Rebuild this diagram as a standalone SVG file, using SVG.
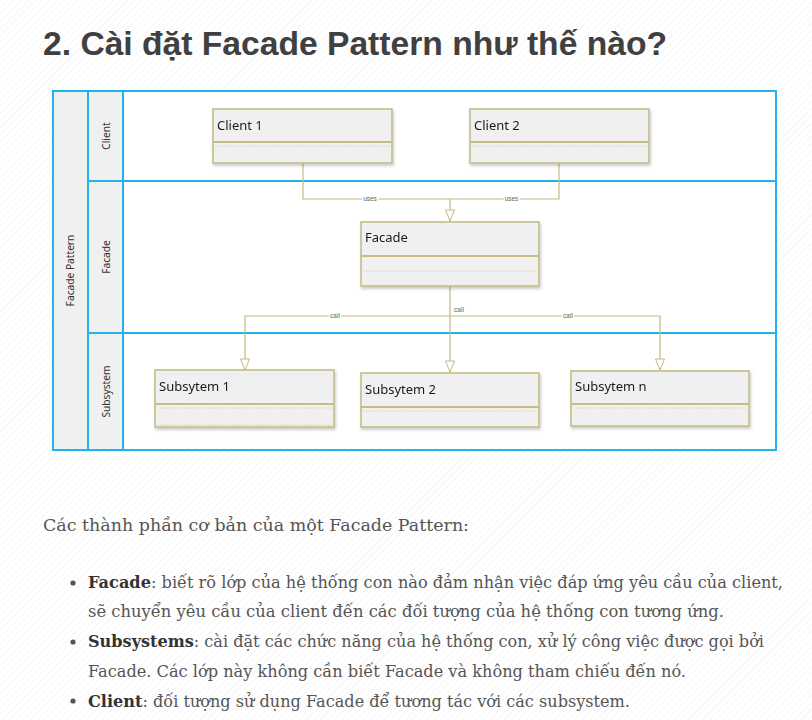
<svg xmlns="http://www.w3.org/2000/svg" width="812" height="720" viewBox="0 0 812 720">
  <defs>
    <pattern id="stripes" width="5" height="5" patternUnits="userSpaceOnUse" patternTransform="rotate(45)">
      <rect width="5" height="5" fill="#ffffff"/>
      <line x1="0" y1="0" x2="0" y2="5" stroke="#f3f3f3" stroke-width="1.4"/>
    </pattern>
    <marker id="hollow" markerUnits="userSpaceOnUse" markerWidth="14" markerHeight="12" viewBox="-1 -1 14 12" refX="11" refY="4.5" orient="auto">
      <path d="M0,0 L11,4.5 L0,9 Z" fill="#ffffff" stroke="#c2ba82" stroke-width="1"/>
    </marker>
    <filter id="shadow" x="-10%" y="-20%" width="125%" height="150%">
      <feDropShadow dx="1" dy="2" stdDeviation="1.4" flood-color="#000" flood-opacity="0.22"/>
    </filter>
  </defs>
  <style>
    .title { font-family: "Liberation Sans", Arial, sans-serif; font-weight: bold; font-size: 34px; fill: #404040; }
    .lane { fill: #ffffff; }
    .head { fill: #f0f0f0; }
    .frame { fill: none; stroke: #22b2ee; stroke-width: 2; }
    .lanelabel { font-family: "Noto Sans", "Open Sans", sans-serif; font-size: 10.2px; fill: #333333; text-anchor: middle; }
    .box { fill: #f0f0f0; stroke: #c6bd86; stroke-width: 1.6; }
    .divider { stroke: #c6bd86; stroke-width: 2; }
    .dots { stroke: #d4c88e; stroke-width: 0.8; stroke-dasharray: 1.5 1.5; }
    .name { font-family: "Noto Sans", "Open Sans", sans-serif; font-size: 13px; fill: #1a1a1a; }
    .conn { fill: none; stroke: #c2ba82; stroke-width: 1.2; }
    .tag { font-family: "Liberation Sans", Arial, sans-serif; font-size: 6.5px; fill: #6b6650; text-anchor: middle; stroke: #ffffff; stroke-width: 3; paint-order: stroke; }
    .body { font-family: "DejaVu Serif", "Liberation Serif", serif; font-size: 17px; fill: #555555; }
    .strong { font-weight: bold; fill: #333333; }
    .dot { fill: #555555; }
  </style>

  <!-- page background -->
  <rect width="812" height="720" fill="url(#stripes)"/>

  <text class="title" x="43" y="55" textLength="624" lengthAdjust="spacingAndGlyphs">2. Cài đặt Facade Pattern như thế nào?</text>

  <!-- swimlane pool -->
  <g id="pool">
    <rect class="lane" x="53" y="91" width="723" height="359"/>
    <rect class="head" x="53" y="91" width="70" height="359"/>
    <rect class="frame" x="53" y="91" width="723" height="359"/>
    <line class="frame" x1="88" y1="91" x2="88" y2="450"/>
    <line class="frame" x1="123" y1="91" x2="123" y2="450"/>
    <line class="frame" x1="88" y1="181" x2="776" y2="181"/>
    <line class="frame" x1="88" y1="333" x2="776" y2="333"/>
    <text class="lanelabel" transform="translate(73.5 270.5) rotate(-90)">Facade Pattern</text>
    <text class="lanelabel" transform="translate(109.5 136) rotate(-90)">Client</text>
    <text class="lanelabel" transform="translate(109.5 257) rotate(-90)">Facade</text>
    <text class="lanelabel" transform="translate(109.5 391.5) rotate(-90)">Subsystem</text>
  </g>

  <!-- connectors -->
  <g id="connectors">
    <path class="conn" d="M303 163 V199 H559 V163"/>
    <path class="conn" d="M450 199 V221" marker-end="url(#hollow)"/>
    <path class="conn" d="M450 286 V372" marker-end="url(#hollow)"/>
    <path class="conn" d="M450 316 H245 V370" marker-end="url(#hollow)"/>
    <path class="conn" d="M450 316 H660 V370" marker-end="url(#hollow)"/>
    <text class="tag" x="370" y="201.3">uses</text>
    <text class="tag" x="511.5" y="201.3">uses</text>
    <text class="tag" x="335" y="318.3">call</text>
    <text class="tag" x="459" y="312">call</text>
    <text class="tag" x="568" y="318.3">call</text>
  </g>

  <!-- classes -->
  <g id="client1" filter="url(#shadow)">
    <rect class="box" x="213" y="109" width="179" height="54"/>
    <line class="divider" x1="213" y1="142" x2="392" y2="142"/>
    <line class="dots" x1="215" y1="146" x2="390" y2="146"/>
    <text class="name" x="217" y="130">Client 1</text>
  </g>
  <g id="client2" filter="url(#shadow)">
    <rect class="box" x="470" y="109" width="179" height="54"/>
    <line class="divider" x1="470" y1="142" x2="649" y2="142"/>
    <line class="dots" x1="472" y1="146" x2="647" y2="146"/>
    <text class="name" x="474" y="130">Client 2</text>
  </g>
  <g id="facade" filter="url(#shadow)">
    <rect class="box" x="361" y="222" width="178" height="64"/>
    <line class="divider" x1="361" y1="256" x2="539" y2="256"/>
    <line class="dots" x1="363" y1="271" x2="537" y2="271"/>
    <text class="name" x="365" y="242">Facade</text>
  </g>
  <g id="subsystem1" filter="url(#shadow)">
    <rect class="box" x="155" y="370" width="179" height="57"/>
    <line class="divider" x1="155" y1="404" x2="334" y2="404"/>
    <line class="dots" x1="157" y1="408" x2="332" y2="408"/>
    <line class="dots" x1="157" y1="425" x2="332" y2="425"/>
    <text class="name" x="159" y="391">Subsytem 1</text>
  </g>
  <g id="subsystem2" filter="url(#shadow)">
    <rect class="box" x="361" y="373" width="178" height="54"/>
    <line class="divider" x1="361" y1="407" x2="539" y2="407"/>
    <line class="dots" x1="363" y1="411" x2="537" y2="411"/>
    <text class="name" x="365" y="394">Subsytem 2</text>
  </g>
  <g id="subsystemN" filter="url(#shadow)">
    <rect class="box" x="571" y="371" width="178" height="55"/>
    <line class="divider" x1="571" y1="404" x2="749" y2="404"/>
    <line class="dots" x1="573" y1="408" x2="747" y2="408"/>
    <text class="name" x="575" y="391">Subsytem n</text>
  </g>

  <!-- description -->
  <text class="body" x="43" y="531" textLength="426" lengthAdjust="spacingAndGlyphs">Các thành phần cơ bản của một Facade Pattern:</text>

  <circle class="dot" cx="73" cy="583" r="2.6"/>
  <text class="body" x="88" y="588" textLength="695" lengthAdjust="spacingAndGlyphs"><tspan class="strong">Facade</tspan>: biết rõ lớp của hệ thống con nào đảm nhận việc đáp ứng yêu cầu của client,</text>
  <text class="body" x="88" y="617" textLength="636" lengthAdjust="spacingAndGlyphs">sẽ chuyển yêu cầu của client đến các đối tượng của hệ thống con tương ứng.</text>

  <circle class="dot" cx="73" cy="642" r="2.6"/>
  <text class="body" x="88" y="647" textLength="676" lengthAdjust="spacingAndGlyphs"><tspan class="strong">Subsystems</tspan>: cài đặt các chức năng của hệ thống con, xử lý công việc được gọi bởi</text>
  <text class="body" x="88" y="677" textLength="598" lengthAdjust="spacingAndGlyphs">Facade. Các lớp này không cần biết Facade và không tham chiếu đến nó.</text>

  <circle class="dot" cx="73" cy="701" r="2.6"/>
  <text class="body" x="88" y="707" textLength="542" lengthAdjust="spacingAndGlyphs"><tspan class="strong">Client</tspan>: đối tượng sử dụng Facade để tương tác với các subsystem.</text>
</svg>
